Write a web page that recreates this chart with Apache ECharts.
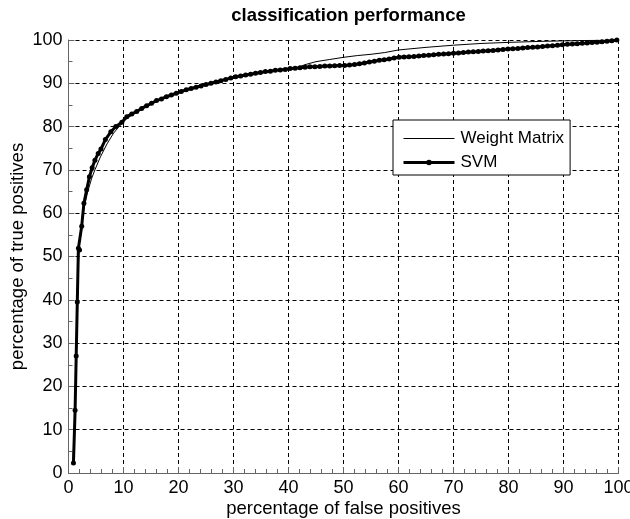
<!DOCTYPE html>
<html>
<head>
<meta charset="utf-8">
<script src="https://cdn.jsdelivr.net/npm/echarts@6/dist/echarts.min.js"></script>
<style>
  html, body { margin: 0; padding: 0; background: #fff; }
  #chart { width: 630px; height: 519px; }
</style>
</head>
<body>
<div id="chart"></div>
<script>
// ROC curves: true positive rate (%) against false positive rate (%)
const wmFalsePos = [0.8, 1.2, 1.4, 1.6, 1.9, 2.8, 3.5, 4.2, 4.8, 5.8, 7.0, 8.2, 9.2, 10.5, 12, 14, 16, 18, 20, 22.5, 25, 27.5, 30, 35, 40, 41.5, 43, 45, 47.5, 50, 52.5, 55, 57.5, 60, 65, 70, 75, 80, 85, 90, 95, 100];
const wmTruePos  = [2.0, 15, 27, 40, 52, 61, 65, 68, 70, 73, 76, 78.5, 80, 81.8, 83, 84.6, 86, 87, 88, 89, 89.8, 90.6, 91.3, 92.5, 93.4, 93.6, 94.3, 95.0, 95.5, 96.0, 96.4, 96.7, 97.1, 97.7, 98.3, 98.8, 99.2, 99.45, 99.65, 99.8, 99.9, 100];

const svmFalsePos = [0.9, 1.2, 1.4, 1.6, 1.8, 2.0, 2.4, 2.8, 3.3, 3.8, 4.3, 4.8, 5.4, 5.9, 6.7, 7.7, 8.6, 9.7, 10.6, 11.5, 12.4, 13.3, 14.2, 15.1, 16.0, 16.9, 17.8, 18.7, 19.6, 20.5, 21.4, 22.3, 23.2, 24.1, 25.0, 25.9, 26.8, 27.7, 28.6, 29.5, 30.4, 31.3, 32.2, 33.1, 34.0, 34.9, 35.8, 36.7, 37.6, 38.5, 39.4, 40.3, 41.2, 42.1, 43.0, 43.9, 44.8, 45.7, 46.6, 47.5, 48.4, 49.3, 50.2, 51.1, 52.0, 52.9, 53.8, 54.7, 55.6, 56.5, 57.4, 58.3, 59.2, 60.1, 61.0, 61.9, 62.8, 63.7, 64.6, 65.5, 66.4, 67.3, 68.2, 69.1, 70.0, 70.9, 71.8, 72.7, 73.6, 74.5, 75.4, 76.3, 77.2, 78.1, 79.0, 79.9, 80.8, 81.7, 82.6, 83.5, 84.4, 85.3, 86.2, 87.1, 88.0, 88.9, 89.8, 90.7, 91.6, 92.5, 93.4, 94.3, 95.2, 96.1, 97.0, 97.9, 98.8, 99.7];
const svmTruePos  = [2.3, 14.5, 27, 39.5, 51.9, 51.5, 57, 62.3, 65.4, 68.4, 70.5, 72.2, 73.8, 74.8, 77, 78.8, 80, 81, 82.3, 82.9, 83.5, 84.2, 84.8, 85.4, 86.0, 86.4, 86.9, 87.3, 87.7, 88.1, 88.5, 88.8, 89.1, 89.4, 89.7, 90.0, 90.3, 90.6, 90.9, 91.2, 91.5, 91.7, 91.9, 92.1, 92.3, 92.5, 92.7, 92.8, 93.0, 93.1, 93.2, 93.4, 93.5, 93.6, 93.7, 93.8, 93.85, 93.9, 94.0, 94.0, 94.05, 94.1, 94.1, 94.2, 94.35, 94.5, 94.7, 94.9, 95.1, 95.3, 95.45, 95.6, 95.85, 96.0, 96.1, 96.15, 96.2, 96.3, 96.4, 96.5, 96.6, 96.7, 96.75, 96.85, 96.95, 97.0, 97.1, 97.2, 97.3, 97.35, 97.45, 97.5, 97.6, 97.7, 97.8, 97.9, 98.0, 98.05, 98.15, 98.25, 98.3, 98.4, 98.5, 98.6, 98.7, 98.8, 98.9, 99.0, 99.05, 99.15, 99.25, 99.3, 99.4, 99.5, 99.6, 99.7, 99.85, 100];

const seriesNames = ['Weight Matrix', 'SVM'];
const titleText = 'classification performance';
const xName = 'percentage of false positives';
const yName = 'percentage of true positives';

const pairs = (xs, ys) => xs.map((x, i) => [x, ys[i]]);
const FONT = '"Liberation Sans", Arial, Helvetica, sans-serif';

const axisCommon = {
  type: 'value',
  min: 0,
  max: 100,
  interval: 10,
  nameLocation: 'middle',
  nameMoveOverlap: false,
  nameTextStyle: { fontFamily: FONT, fontSize: 18.5, color: '#000' },
  axisLine: { show: true, lineStyle: { color: '#666', width: 1 } },
  axisTick: { show: true, inside: true, length: 6, lineStyle: { color: '#666' } },
  axisLabel: { fontFamily: FONT, fontSize: 18, color: '#000' },
  splitLine: { show: true, lineStyle: { color: '#000', type: [4, 3], width: 1 } }
};

const chart = echarts.init(document.getElementById('chart'), null, { renderer: 'canvas' });
chart.setOption({
  backgroundColor: '#fff',
  animation: false,
  title: {
    text: titleText,
    left: 343.5,
    textAlign: 'center',
    top: 1,
    textStyle: { fontFamily: FONT, fontSize: 18.5, fontWeight: 'bold', color: '#000' }
  },
  grid: { left: 68.5, right: 11.5, top: 40, bottom: 46, containLabel: false, outerBoundsMode: 'none' },
  legend: {
    orient: 'vertical',
    left: 393,
    top: 120,
    padding: [10, 6, 4, 9],
    itemWidth: 51,
    itemHeight: 7,
    itemGap: 7,
    backgroundColor: '#fff',
    borderColor: '#000',
    borderWidth: 1,
    textStyle: { fontFamily: FONT, fontSize: 17, color: '#000', padding: [0, 0, 0, 1] },
    data: [
      {
        name: seriesNames[0],
        lineStyle: { color: '#000', width: 1 },
        itemStyle: { color: 'rgba(0,0,0,0)', borderColor: 'rgba(0,0,0,0)', borderWidth: 0 }
      },
      {
        name: seriesNames[1],
        lineStyle: { color: '#000', width: 3 },
        itemStyle: { color: '#000', borderWidth: 0 }
      }
    ]
  },
  xAxis: Object.assign({}, axisCommon, {
    name: xName,
    nameGap: 26,
    minorTick: { show: true, splitNumber: 5, length: 4, lineStyle: { color: '#666' } },
    axisLabel: Object.assign({}, axisCommon.axisLabel, { margin: 6 })
  }),
  yAxis: Object.assign({}, axisCommon, {
    name: yName,
    nameGap: 41,
    minorTick: { show: true, splitNumber: 2, length: 4, lineStyle: { color: '#666' } },
    axisLabel: Object.assign({}, axisCommon.axisLabel, { margin: 6 })
  }),
  series: [
    {
      name: seriesNames[0],
      type: 'line',
      data: pairs(wmFalsePos, wmTruePos),
      showSymbol: false,
      symbol: 'none',
      lineStyle: { color: '#000', width: 1 },
      itemStyle: { color: '#000' },
      z: 3
    },
    {
      name: seriesNames[1],
      type: 'line',
      data: pairs(svmFalsePos, svmTruePos),
      symbol: 'circle',
      symbolSize: 5,
      showAllSymbol: true,
      lineStyle: { color: '#000', width: 3 },
      itemStyle: { color: '#000' },
      z: 2
    }
  ]
});
</script>
</body>
</html>
